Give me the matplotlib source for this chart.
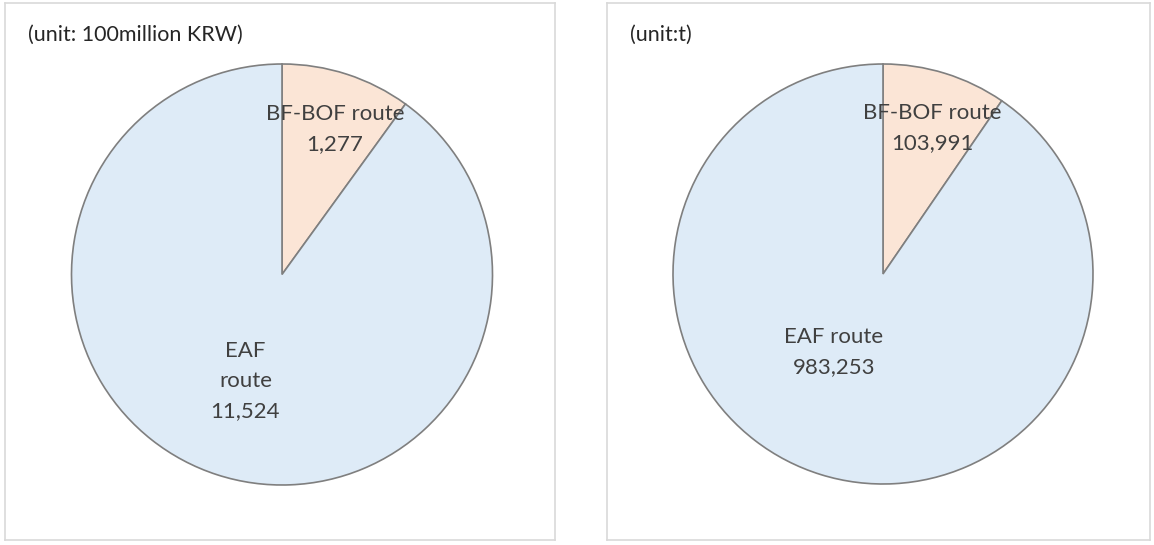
import numpy as np
import matplotlib.pyplot as plt

# Data
routes = ['BF-BOF route', 'EAF route']
sales_values = [1277, 11524]          # unit: 100million KRW
output_values = [103991, 983253]      # unit: t
sales_labels = ['BF-BOF route\n1,277', 'EAF\nroute\n11,524']
output_labels = ['BF-BOF route\n103,991', 'EAF route\n983,253']

colors = ['#FBE5D6', '#DEEBF7']
edge = '#7F7F7F'
text_color = '#404040'
plt.rcParams['font.family'] = ['Lato', 'DejaVu Sans']

W, H = 1154, 545
fig = plt.figure(figsize=(W / 100, H / 100), dpi=100)


def panel(x0, x1, y0, y1, values, labels, title, center, radius, dists, offs):
    ax = fig.add_axes([x0 / W, 1 - y1 / H, (x1 - x0) / W, (y1 - y0) / H])
    ax.set_xticks([])
    ax.set_yticks([])
    for s in ax.spines.values():
        s.set_color('#D9D9D9')
        s.set_linewidth(1.2)
    wedges, _ = ax.pie(values, colors=colors, startangle=90, counterclock=False,
                       center=center, radius=radius, frame=True,
                       wedgeprops=dict(edgecolor=edge, linewidth=1.2))
    ax.set_xlim(0, x1 - x0)
    ax.set_ylim(0, y1 - y0)
    ax.set_aspect('equal', adjustable='box')
    ax.set_xticks([])
    ax.set_yticks([])
    # data labels, placed along the middle of each wedge
    for w, lab, d, o in zip(wedges, labels, dists, offs):
        ang = np.deg2rad((w.theta1 + w.theta2) / 2 + o)
        ax.text(center[0] + d * radius * np.cos(ang),
                center[1] + d * radius * np.sin(ang),
                lab, ha='center', va='center', fontsize=16,
                color=text_color, linespacing=1.65)
    ax.text(23, (y1 - y0) - 32, title, ha='left', va='center',
            fontsize=15.5, color='#262626')
    return ax


panel(5, 555, 3, 540, sales_values, sales_labels, '(unit: 100million KRW)',
      (277, 265.5), 210.5, [0.735, 0.535], [-2, -1])
panel(607, 1150, 3, 540, output_values, output_labels, '(unit:t)',
      (276, 266), 210, [0.733, 0.438], [-1.5, -15])

fig.savefig('out.png', dpi=100)
